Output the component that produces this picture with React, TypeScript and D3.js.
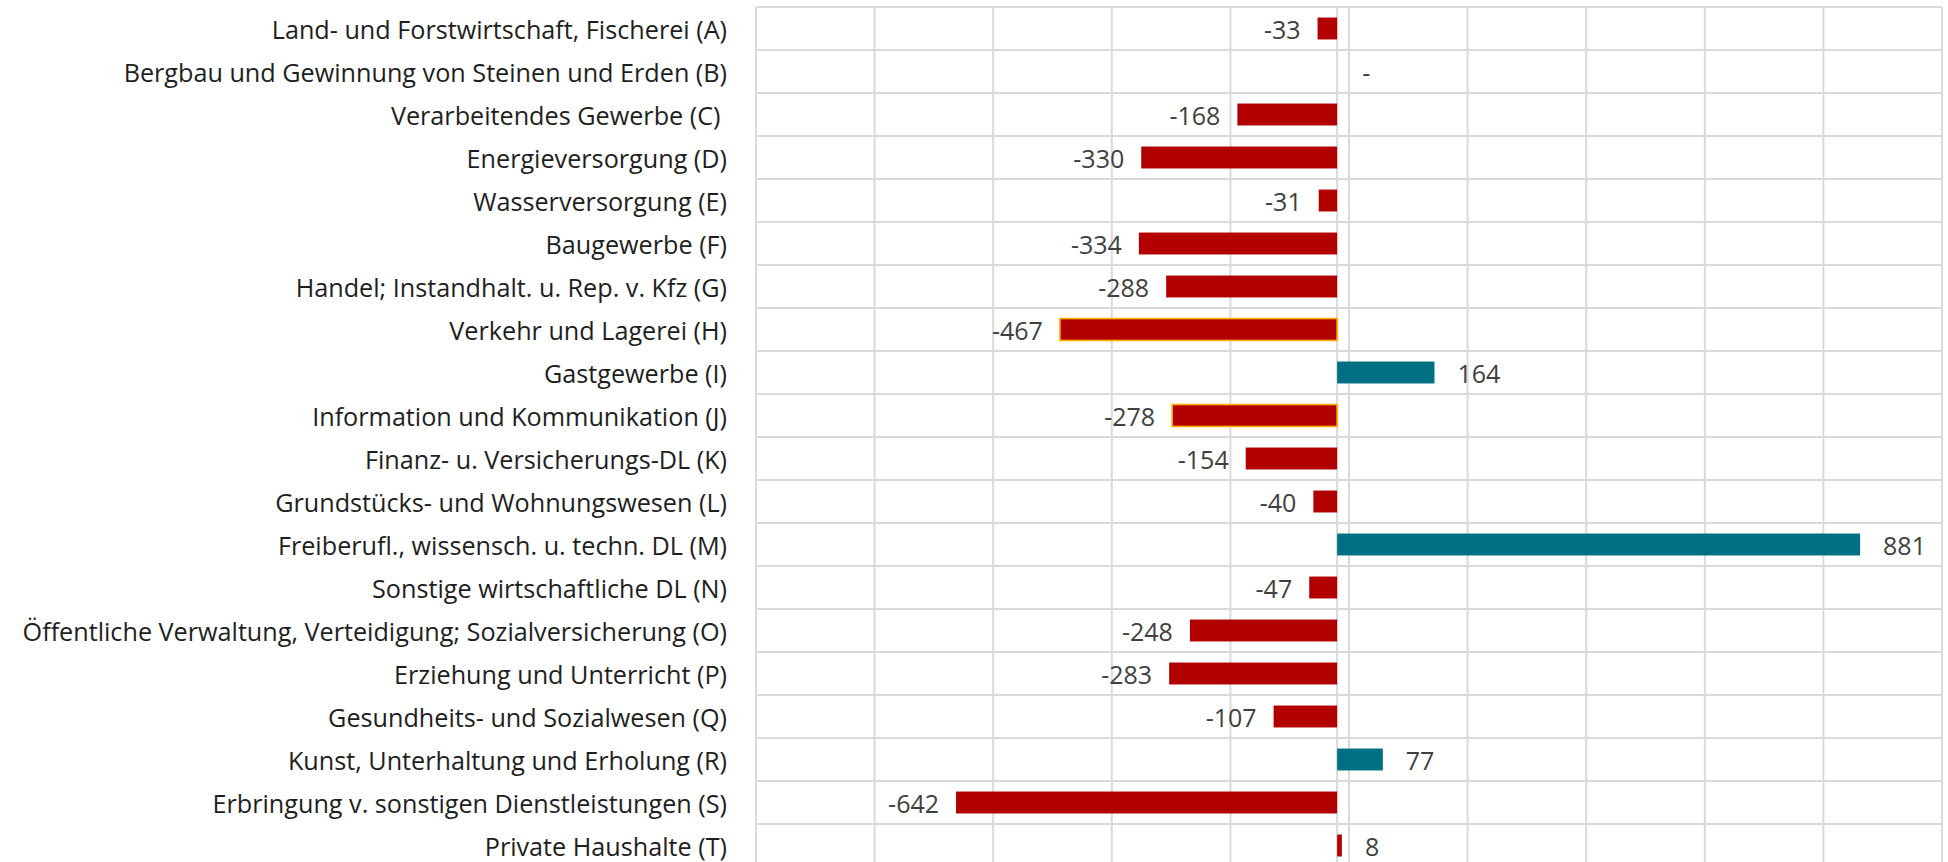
import React from "react";
import * as d3 from "d3";

const categories = [
  "Land- und Forstwirtschaft, Fischerei (A)",
  "Bergbau und Gewinnung von Steinen und Erden (B)",
  "Verarbeitendes Gewerbe (C) ",
  "Energieversorgung (D)",
  "Wasserversorgung (E)",
  "Baugewerbe (F)",
  "Handel; Instandhalt. u. Rep. v. Kfz (G)",
  "Verkehr und Lagerei (H)",
  "Gastgewerbe (I)",
  "Information und Kommunikation (J)",
  "Finanz- u. Versicherungs-DL (K)",
  "Grundstücks- und Wohnungswesen (L)",
  "Freiberufl., wissensch. u. techn. DL (M)",
  "Sonstige wirtschaftliche DL (N)",
  "Öffentliche Verwaltung, Verteidigung; Sozialversicherung (O)",
  "Erziehung und Unterricht (P)",
  "Gesundheits- und Sozialwesen (Q)",
  "Kunst, Unterhaltung und Erholung (R)",
  "Erbringung v. sonstigen Dienstleistungen (S)",
  "Private Haushalte (T)",
];

const values: (number | null)[] = [
  -33, null, -168, -330, -31, -334, -288, -467, 164, -278,
  -154, -40, 881, -47, -248, -283, -107, 77, -642, 8,
];

// categories drawn in the second (teal) series colour
const tealCodes = ["(I)", "(M)", "(R)"];
// categories with a highlighted outline
const outlinedCodes = ["(H)", "(J)"];

const W = 1948;
const H = 862;
const RED = "#B20000";
const TEAL = "#007082";
const OUTLINE = "#FFB000";
const GRID = "#DADADA";

export default function App() {
  const plotLeft = 756;
  const plotRight = 1942;
  const top = 7;
  const rowH = 43;

  const x = d3.scaleLinear().domain([-979, 1019]).range([plotLeft, plotRight]);
  const y = d3
    .scaleBand<string>()
    .domain(categories)
    .range([top, top + rowH * categories.length])
    .padding(0);
  const bw = y.bandwidth();
  const barH = bw * 0.51;
  const x0 = x(0);

  const gridXs = d3.range(11).map((i) => plotLeft + ((plotRight - plotLeft) * i) / 10);
  const rowLines = d3.range(categories.length + 1).map((i) => top + i * bw);

  const codeOf = (c: string) => c.trim().slice(-3);

  return (
    <svg
      width={W}
      height={H}
      style={{ position: "fixed", left: 0, top: 0, background: "#fff" }}
    >
      <rect x={0} y={0} width={W} height={H} fill="#fff" />
      {/* grid */}
      {gridXs.map((gx, i) => (
        <line key={"gx" + i} x1={gx} x2={gx} y1={top} y2={H} stroke={GRID} strokeWidth={2} />
      ))}
      {rowLines.map((ry, i) => (
        <line key={"ry" + i} x1={plotLeft} x2={plotRight} y1={ry} y2={ry} stroke={GRID} strokeWidth={2} />
      ))}
      <line x1={x0} x2={x0} y1={top} y2={H} stroke={GRID} strokeWidth={2} />

      {/* category labels */}
      {categories.map((c) => (
        <text
          key={"l" + c}
          x={727}
          y={(y(c) as number) + bw / 2}
          textAnchor="end"
          dominantBaseline="central"
          fontFamily="'Open Sans', 'Noto Sans', sans-serif"
          fontSize={25.2}
          fill="#1E1E1E"
          style={{ whiteSpace: "pre" }}
        >
          {c}
        </text>
      ))}

      {/* bars */}
      {categories.map((c, i) => {
        const v = values[i];
        if (v === null) return null;
        const code = codeOf(c);
        const teal = tealCodes.includes(code);
        const outlined = outlinedCodes.includes(code);
        const xa = Math.min(x(v), x0);
        const wa = Math.abs(x(v) - x0);
        const cy = (y(c) as number) + bw / 2;
        return (
          <rect
            key={"b" + c}
            x={xa}
            y={cy - barH / 2}
            width={wa}
            height={barH}
            fill={teal ? TEAL : RED}
            stroke={outlined ? OUTLINE : "none"}
            strokeWidth={outlined ? 1.6 : 0}
          />
        );
      })}

      {/* value labels */}
      {categories.map((c, i) => {
        const v = values[i];
        const cy = (y(c) as number) + bw / 2;
        const common = {
          y: cy,
          dominantBaseline: "central" as const,
          fontFamily: "'Open Sans', 'Noto Sans', sans-serif",
          fontSize: 25,
          fill: "#404040",
        };
        if (v === null) {
          return (
            <text key={"v" + c} x={x0 + 25} textAnchor="start" {...common}>
              -
            </text>
          );
        }
        return v < 0 ? (
          <text key={"v" + c} x={x(v) - 17} textAnchor="end" {...common}>
            {String(v)}
          </text>
        ) : (
          <text key={"v" + c} x={x(v) + 23} textAnchor="start" {...common}>
            {String(v)}
          </text>
        );
      })}
    </svg>
  );
}
